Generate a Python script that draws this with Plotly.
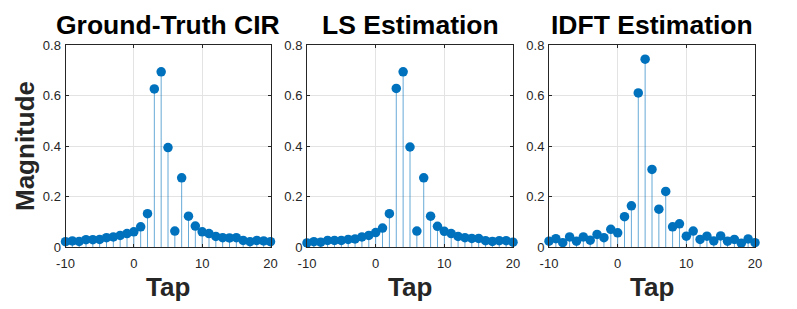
import plotly.graph_objects as go

taps = list(range(-10, 21))

ground_truth = [0.021, 0.024, 0.022, 0.029, 0.029, 0.030, 0.037, 0.040, 0.046, 0.053,
                0.060, 0.080, 0.132, 0.626, 0.694, 0.394, 0.063, 0.274, 0.122, 0.083,
                0.060, 0.053, 0.042, 0.037, 0.036, 0.037, 0.026, 0.021, 0.026, 0.024, 0.021]

ls_est = [0.016, 0.021, 0.019, 0.026, 0.026, 0.026, 0.030, 0.032, 0.040, 0.046,
          0.057, 0.075, 0.132, 0.628, 0.694, 0.396, 0.063, 0.274, 0.122, 0.082,
          0.062, 0.053, 0.042, 0.037, 0.034, 0.034, 0.025, 0.022, 0.025, 0.025, 0.019]

idft_est = [0.023, 0.033, 0.017, 0.040, 0.023, 0.040, 0.027, 0.050, 0.037, 0.070,
            0.056, 0.120, 0.163, 0.610, 0.744, 0.307, 0.150, 0.220, 0.080, 0.092,
            0.043, 0.063, 0.030, 0.043, 0.024, 0.044, 0.023, 0.030, 0.015, 0.032, 0.017]

titles = ["Ground-Truth CIR", "LS Estimation", "IDFT Estimation"]
series = [ground_truth, ls_est, idft_est]
x_ticks = [-10, 0, 10, 20]
x_tick_text = ["-10", "0", "10", "20"]
y_ticks = [0, 0.2, 0.4, 0.6, 0.8]
y_tick_text = ["0", "0.2", "0.4", "0.6", "0.8"]

W, H = 797, 309
OFF = 8  # page body margin offset
x_domains_px = [(65.5, 270.5), (307, 513), (549, 755)]
y_top_px, y_bot_px = 45, 247


def px_x(v):
    return (v - OFF) / W


def px_y(v):
    return (H - (v - OFF)) / H


BLUE = "#0072BD"
AX = "#262626"
FONT = "Liberation Sans, Arial, sans-serif"

fig = go.Figure()
annotations = []
layout = {}
for i, (vals, title) in enumerate(zip(series, titles)):
    n = "" if i == 0 else str(i + 1)
    fig.add_trace(go.Scatter(
        x=taps, y=vals, mode="markers", cliponaxis=False,
        marker=dict(size=9.5, color=BLUE, line=dict(width=0)),
        error_y=dict(type="data", symmetric=False, array=[0] * len(vals),
                     arrayminus=vals, width=0, thickness=1,
                     color="rgba(0,114,189,0.6)"),
        xaxis="x" + n, yaxis="y" + n, showlegend=False, hoverinfo="x+y",
    ))
    x0, x1 = x_domains_px[i]
    dom = [px_x(x0), px_x(x1)]
    common = dict(showline=True, linecolor=AX, linewidth=1, mirror="allticks",
                  ticks="inside", ticklen=3, tickcolor=AX, showgrid=True,
                  gridcolor="#e3e3e3", gridwidth=1, zeroline=False, automargin=False,
                  tickfont=dict(family=FONT, size=13, color=AX))
    layout["xaxis" + n] = dict(domain=dom, range=[-10, 20], tickvals=x_ticks,
                               ticktext=x_tick_text,
                               anchor="y" + n, ticklabelstandoff=4, **common)
    layout["yaxis" + n] = dict(domain=[px_y(y_bot_px), px_y(y_top_px)],
                               range=[0, 0.8], tickvals=y_ticks, ticktext=y_tick_text,
                               anchor="x" + n, ticklabelstandoff=1, **common)
    cx = (dom[0] + dom[1]) / 2
    annotations.append(dict(text=title, x=cx, y=px_y(25),
                            xref="paper", yref="paper", xanchor="center", yanchor="middle",
                            showarrow=False,
                            font=dict(family=FONT, size=26.5, color="black", weight="bold")))
    annotations.append(dict(text="Tap", x=cx, y=px_y(287),
                            xref="paper", yref="paper", xanchor="center", yanchor="middle",
                            showarrow=False,
                            font=dict(family=FONT, size=26, color=AX, weight="bold")))

annotations.append(dict(text="Magnitude", x=px_x(25), y=px_y(146), textangle=-90,
                        xref="paper", yref="paper", xanchor="center", yanchor="middle",
                        showarrow=False,
                        font=dict(family=FONT, size=26, color=AX, weight="bold")))

fig.update_layout(width=W, height=H, margin=dict(l=0, r=0, t=0, b=0),
                  paper_bgcolor="white", plot_bgcolor="white",
                  annotations=annotations, **layout)

fig.write_html("out.html")
